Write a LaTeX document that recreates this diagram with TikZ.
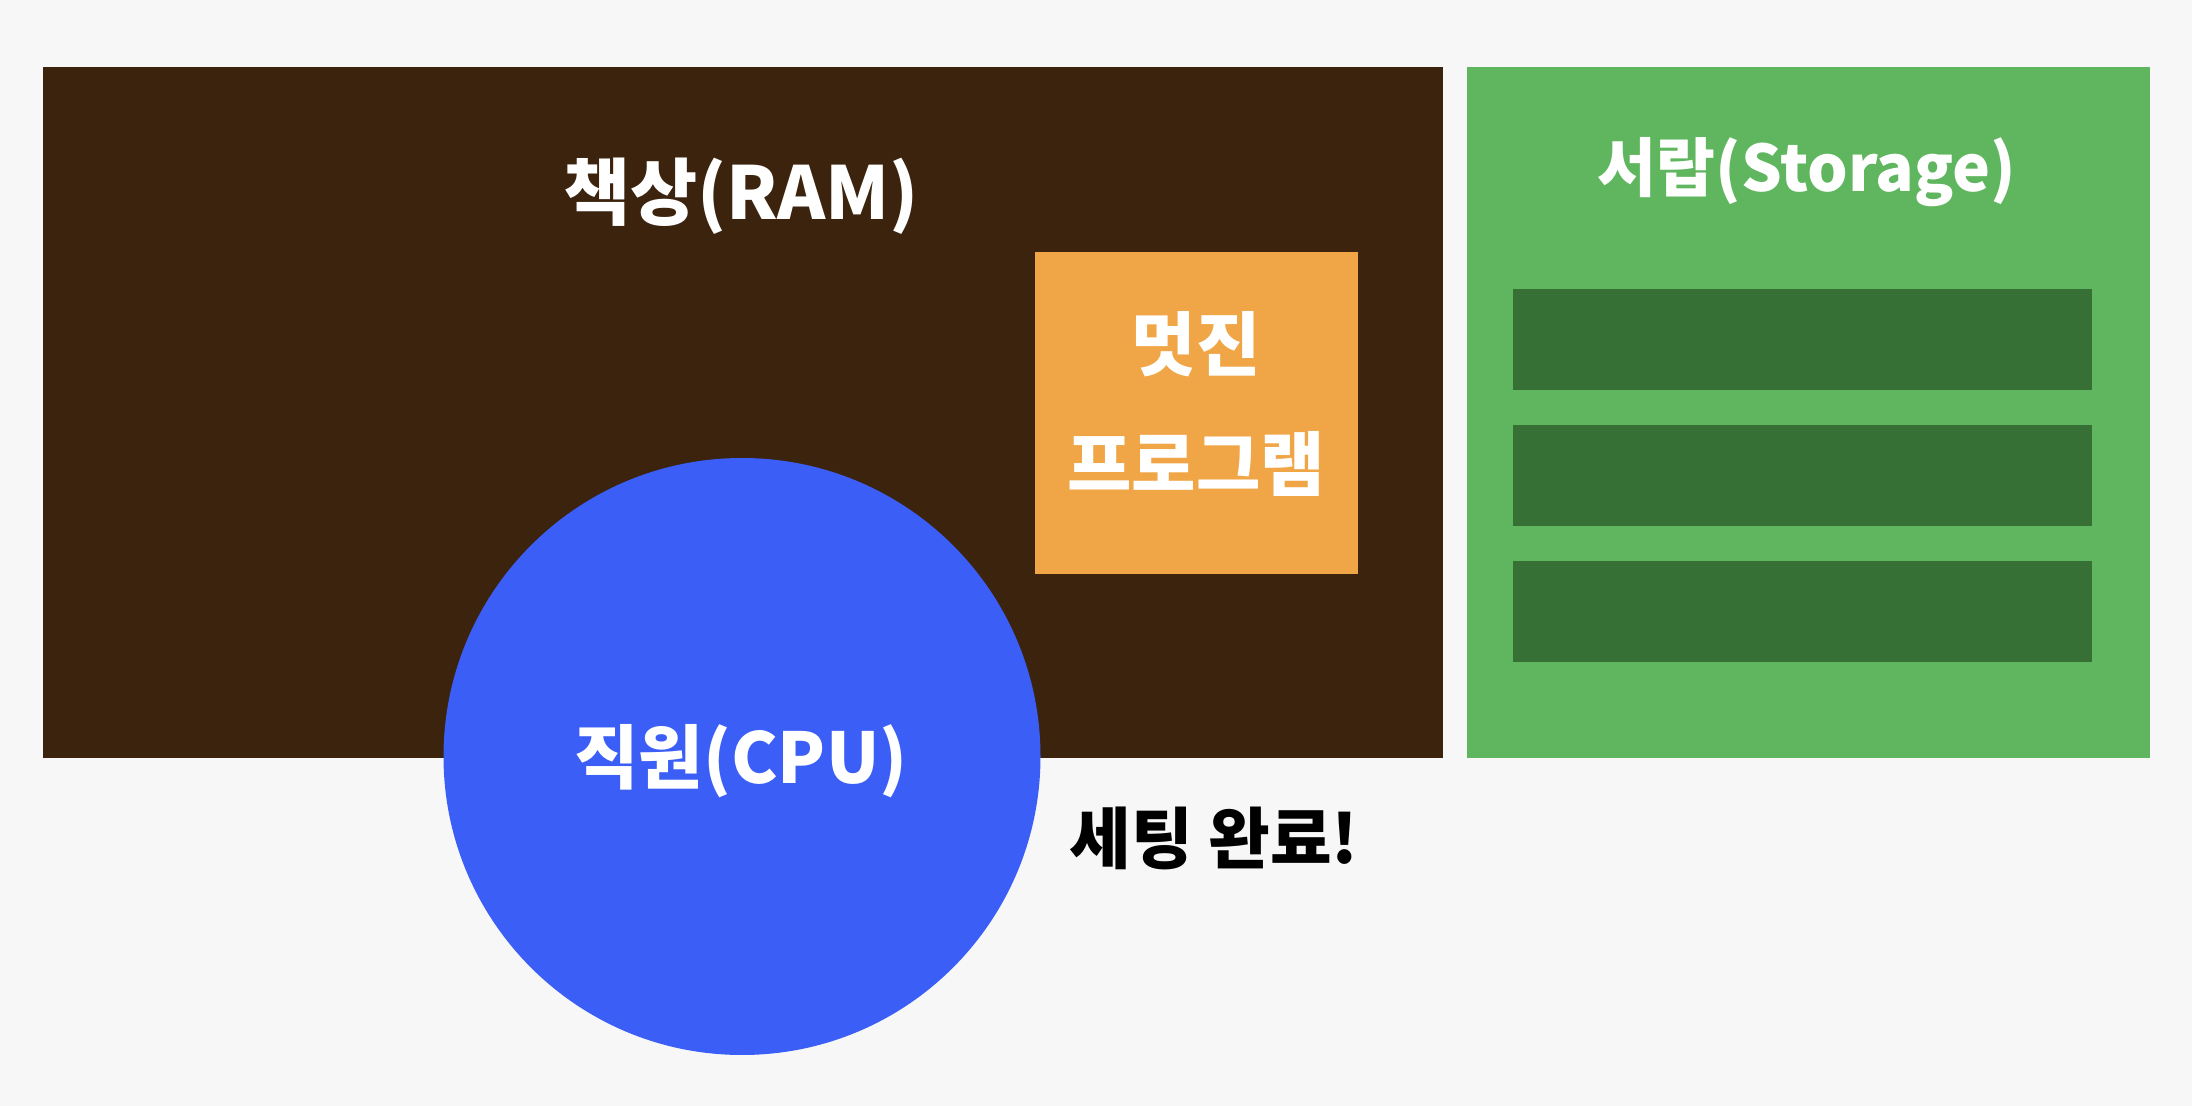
\documentclass[tikz,border=0pt]{standalone}
\usepackage{fontspec}
\newfontfamily\kr{Noto Sans CJK KR}
\definecolor{bg}{HTML}{F7F7F7}
\definecolor{deskc}{HTML}{3B230E}
\definecolor{drawerc}{HTML}{5FB65F}
\definecolor{slotc}{HTML}{367035}
\definecolor{progc}{HTML}{F0A646}
\definecolor{cpuc}{HTML}{3B5EF7}
\begin{document}
\begin{tikzpicture}[x=0.5pt,y=-0.5pt,
  area/.style={draw=none, inner sep=0pt, outer sep=0pt, anchor=north west},
  lbl/.style={text=white, font=\kr\bfseries\fontsize{32}{60}\selectfont, inner sep=0pt, align=center},
  done/.style={text=black, font=\kr\bfseries\fontsize{33.5}{40}\selectfont, inner sep=0pt}]
\fill[bg] (0,0) rectangle (2192,1106);
\useasboundingbox (0,0) rectangle (2192,1106);
% desk (RAM)
\node[area, fill=deskc, minimum width=700pt, minimum height=345.5pt] (desk) at (43,67) {};
% drawer (Storage)
\node[area, fill=drawerc, minimum width=341.5pt, minimum height=345.5pt] (drawer) at (1467,67) {};
\node[area, fill=slotc, minimum width=289.5pt, minimum height=50.5pt] (slot1) at (1513,289) {};
\node[area, fill=slotc, minimum width=289.5pt, minimum height=50.5pt] (slot2) at (1513,425) {};
\node[area, fill=slotc, minimum width=289.5pt, minimum height=50.5pt] (slot3) at (1513,561) {};
% program
\node[area, fill=progc, minimum width=161.5pt, minimum height=161pt] (prog) at (1035,252) {};
% cpu
\node[circle, fill=cpuc, draw=none, inner sep=0pt, outer sep=0pt, minimum size=298.5pt] (cpu) at (742,756.5) {};
% labels
\node[lbl, font=\kr\bfseries\fontsize{36.5}{44}\selectfont] (desklbl) at (741,196) {책상(RAM)};
\node[lbl] (drawerlbl) at (1807,172) {서랍(Storage)};
\node[lbl, font=\kr\bfseries\fontsize{35}{60}\selectfont] (proglbl) at (1196,404) {멋진\\프로그램};
\node[lbl, font=\kr\bfseries\fontsize{35}{42}\selectfont] (cpulbl) at (741,761) {직원(CPU)};
\node[done] (donelbl) at (1214,838) {세팅 완료!};
\end{tikzpicture}
\end{document}
